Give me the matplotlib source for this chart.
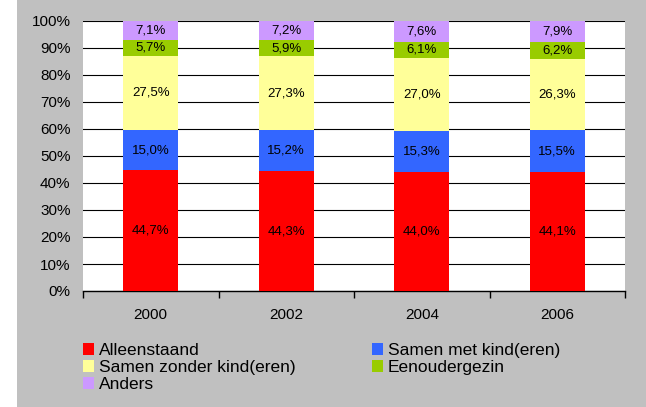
import matplotlib
matplotlib.use("Agg")
import matplotlib.pyplot as plt
import numpy as np
from matplotlib.patches import Rectangle, Patch

plt.rcParams['font.family'] = ['Liberation Sans', 'DejaVu Sans']

years = ['2000', '2002', '2004', '2006']
series_names = ['Alleenstaand', 'Samen met kind(eren)', 'Samen zonder kind(eren)', 'Eenoudergezin', 'Anders']
alleenstaand = [44.7, 44.3, 44.0, 44.1]
samen_met = [15.0, 15.2, 15.3, 15.5]
samen_zonder = [27.5, 27.3, 27.0, 26.3]
eenouder = [5.7, 5.9, 6.1, 6.2]
anders = [7.1, 7.2, 7.6, 7.9]
colors = ['#FF0000', '#3366FF', '#FFFF99', '#99CC00', '#CC99FF']

data = np.array([alleenstaand, samen_met, samen_zonder, eenouder, anders])
totals = data.sum(axis=0)
frac = data / totals * 100

W, H = 646, 407
fig = plt.figure(figsize=(W/100, H/100), dpi=100, facecolor='white')
fig.patches.append(Rectangle((17/W, 0), 1 - 17/W, 1, transform=fig.transFigure,
                             facecolor='#C0C0C0', edgecolor='none', zorder=-10))

ax = fig.add_axes([83/W, 1 - 291/H, (625-83)/W, (291-21)/H])
ax.set_facecolor('white')

x = np.arange(len(years))
bottom = np.zeros(len(years))
for i, name in enumerate(series_names):
    ax.bar(x, frac[i], bottom=bottom, width=0.405, color=colors[i], zorder=3, label=name)
    for j in range(len(years)):
        ax.text(x[j], bottom[j] + frac[i][j] / 2, f"{data[i][j]:.1f}%".replace('.', ','),
                ha='center', va='center', fontsize=9.5, color='black', zorder=4)
    bottom += frac[i]

ax.set_xlim(-0.5, len(years) - 0.5)
ax.set_ylim(0, 100)
ax.set_yticks(np.arange(0, 101, 10))
ax.set_yticklabels([f"{v}%" for v in range(0, 101, 10)], fontsize=11)
ax.tick_params(axis='y', length=0, pad=9)
ax.yaxis.grid(True, color='black', linewidth=0.8, zorder=0)
ax.set_axisbelow(True)

ax.set_xticks(np.arange(-0.5, len(years), 1))
ax.set_xticklabels([])
ax.tick_params(axis='x', which='major', length=5, width=1, color='black', direction='out')
ax.set_xticks(x, minor=True)
ax.set_xticklabels(years, minor=True, fontsize=11)
ax.tick_params(axis='x', which='minor', length=0, pad=12)

for s in ['left', 'right', 'top']:
    ax.spines[s].set_visible(False)
ax.spines['bottom'].set_color('black')
ax.spines['bottom'].set_linewidth(1)

order = [0, 2, 4, 1, 3]
handles = [Patch(facecolor=colors[k], edgecolor='none') for k in order]
labels = [series_names[k] for k in order]
fig.legend(handles, labels, ncol=2, loc='upper left', bbox_to_anchor=(83/W, 1 - 343/H),
           frameon=False, fontsize=12.5, handlelength=0.62, handleheight=0.62,
           handletextpad=0.3, labelspacing=0.12, columnspacing=4.4, borderaxespad=0,
           borderpad=0)

fig.savefig('out.png', dpi=100, facecolor=fig.get_facecolor())
